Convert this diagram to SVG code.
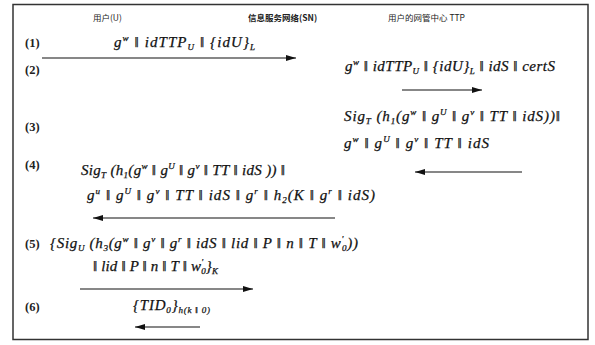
<svg xmlns="http://www.w3.org/2000/svg" width="595" height="345" viewBox="0 0 595 345">
<defs>
<marker id="ah" viewBox="0 0 10 6" refX="10" refY="3" markerWidth="10" markerHeight="6" markerUnits="userSpaceOnUse" orient="auto">
<path d="M0,0 L10,3 L0,6 Z" fill="#111"/>
</marker>
<style>
.f{font-family:"Liberation Serif","DejaVu Serif",serif;font-style:italic;font-size:15px;fill:#111;stroke:#111;stroke-width:0.25}
.s{font-size:9px}
.lbl{font-family:"Liberation Serif",serif;font-size:12.5px;font-weight:bold;fill:#222}
.hd{font-family:"Noto Sans CJK SC","Liberation Sans",sans-serif;font-size:8.5px;fill:#222}
.ar{stroke:#111;stroke-width:1.2;fill:none;marker-end:url(#ah)}
</style>
</defs>
<rect x="0" y="0" width="595" height="345" fill="#fff"/>
<rect x="13" y="4.5" width="575" height="335" fill="none" stroke="#333" stroke-width="1.5"/>
<g id="node-user"><text class="hd" x="93" y="21">用户(U)</text></g>
<g id="node-sn"><text class="hd" x="248" y="21" font-weight="bold">信息服务网络(SN)</text></g>
<g id="node-ttp"><text class="hd" x="388" y="21">用户的网管中心 TTP</text></g>
<g id="labels">
<text class="lbl" x="25" y="47">(1)</text>
<text class="lbl" x="25" y="74">(2)</text>
<text class="lbl" x="25" y="131">(3)</text>
<text class="lbl" x="25" y="169">(4)</text>
<text class="lbl" x="25" y="248">(5)</text>
<text class="lbl" x="25" y="311">(6)</text>
</g>
<g id="messages">
<text class="f" x="114" y="47" textLength="141" lengthAdjust="spacing">g<tspan class="s" dy="-6">w</tspan><tspan dy="6"> ‖ idTTP</tspan><tspan class="s" dy="3">U</tspan><tspan dy="-3"> ‖ {idU}</tspan><tspan class="s" dy="3">L</tspan></text>
<text class="f" x="345" y="71" textLength="210" lengthAdjust="spacing">g<tspan class="s" dy="-6">w</tspan><tspan dy="6"> ‖ idTTP</tspan><tspan class="s" dy="3">U</tspan><tspan dy="-3"> ‖ {idU}</tspan><tspan class="s" dy="3">L</tspan><tspan dy="-3"> ‖ idS ‖ certS</tspan></text>
<text class="f" x="344" y="121" textLength="216" lengthAdjust="spacing">Sig<tspan class="s" dy="3">T</tspan><tspan dy="-3"> (h</tspan><tspan class="s" dy="3">1</tspan><tspan dy="-3">(g</tspan><tspan class="s" dy="-6">w</tspan><tspan dy="6"> ‖ g</tspan><tspan class="s" dy="-6">U</tspan><tspan dy="6"> ‖ g</tspan><tspan class="s" dy="-6">v</tspan><tspan dy="6"> ‖ TT ‖ idS))‖</tspan></text>
<text class="f" x="344" y="148" textLength="145" lengthAdjust="spacing">g<tspan class="s" dy="-6">w</tspan><tspan dy="6"> ‖ g</tspan><tspan class="s" dy="-6">U</tspan><tspan dy="6"> ‖ g</tspan><tspan class="s" dy="-6">v</tspan><tspan dy="6"> ‖ TT ‖ idS</tspan></text>
<text class="f" x="81" y="175" textLength="204" lengthAdjust="spacing">Sig<tspan class="s" dy="3">T</tspan><tspan dy="-3"> (h</tspan><tspan class="s" dy="3">1</tspan><tspan dy="-3">(g</tspan><tspan class="s" dy="-6">w</tspan><tspan dy="6"> ‖ g</tspan><tspan class="s" dy="-6">U</tspan><tspan dy="6"> ‖ g</tspan><tspan class="s" dy="-6">v</tspan><tspan dy="6"> ‖ TT ‖ idS )) ‖</tspan></text>
<text class="f" x="87" y="200" textLength="288" lengthAdjust="spacing">g<tspan class="s" dy="-6">u</tspan><tspan dy="6"> ‖ g</tspan><tspan class="s" dy="-6">U</tspan><tspan dy="6"> ‖ g</tspan><tspan class="s" dy="-6">v</tspan><tspan dy="6"> ‖ TT ‖ idS ‖ g</tspan><tspan class="s" dy="-6">r</tspan><tspan dy="6"> ‖ h</tspan><tspan class="s" dy="3">2</tspan><tspan dy="-3">(K ‖ g</tspan><tspan class="s" dy="-6">r</tspan><tspan dy="6"> ‖ idS)</tspan></text>
<text class="f" x="50" y="248" textLength="308" lengthAdjust="spacing">{Sig<tspan class="s" dy="3">U</tspan><tspan dy="-3"> (h</tspan><tspan class="s" dy="3">3</tspan><tspan dy="-3">(g</tspan><tspan class="s" dy="-6">w</tspan><tspan dy="6"> ‖ g</tspan><tspan class="s" dy="-6">v</tspan><tspan dy="6"> ‖ g</tspan><tspan class="s" dy="-6">r</tspan><tspan dy="6"> ‖ idS ‖ lid ‖ P ‖ n ‖ T ‖ w</tspan><tspan class="s" dy="-6">'</tspan><tspan class="s" dx="-2" dy="9">0</tspan><tspan dy="-3">))</tspan></text>
<text class="f" x="93" y="271" textLength="125" lengthAdjust="spacing">‖ lid ‖ P ‖ n ‖ T ‖ w<tspan class="s" dy="-6">'</tspan><tspan class="s" dx="-2" dy="9">0</tspan><tspan dy="-3">}</tspan><tspan class="s" dy="3">K</tspan></text>
<text class="f" x="133" y="310" textLength="77" lengthAdjust="spacing">{TID<tspan class="s" dy="3">0</tspan><tspan dy="-3">}</tspan><tspan class="s" dy="3">h(k ‖ 0)</tspan></text>
</g>
<g id="connectors">
<line class="ar" x1="42" y1="58" x2="296" y2="58"/>
<line class="ar" x1="402" y1="90" x2="482" y2="90"/>
<line class="ar" x1="522" y1="172" x2="415" y2="172"/>
<line class="ar" x1="335" y1="218" x2="93" y2="218"/>
<line class="ar" x1="80" y1="289" x2="253" y2="289"/>
<line class="ar" x1="200" y1="327" x2="135" y2="327"/>
</g>
</svg>
